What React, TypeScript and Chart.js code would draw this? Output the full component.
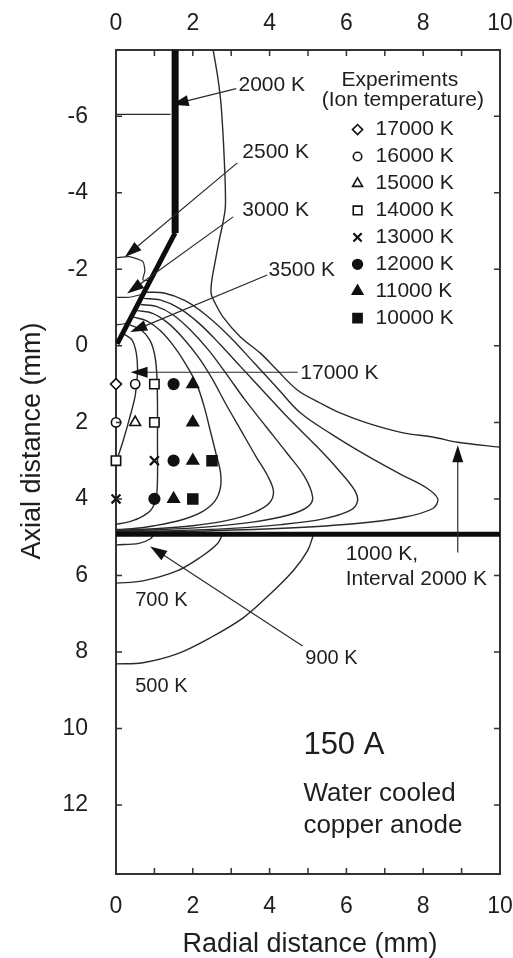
import React, { useEffect, useRef } from 'react';
import { Chart, registerables } from 'chart.js';
import { drawPoint } from 'chart.js/helpers';

Chart.register(...registerables);

// ---------------- axes ----------------
const xRange = [0, 10];
const yRange = [-7.73, 13.8];
const xTickLabels = [0, 2, 4, 6, 8, 10];
const xTickMarks = [1, 2, 3, 4, 5, 6, 7, 8, 9];
const yTickLabels = [-6, -4, -2, 0, 2, 4, 6, 8, 10, 12];

// ---------------- electrodes ----------------
const cathodeShank = [[1.54, -7.73], [1.54, -2.95]];
const cathodeTip = [[1.54, -2.95], [0.03, -0.05]];
const anodeSurface = [[0, 4.92], [10, 4.92]];

// ---------------- isotherms inside cathode ----------------
const iso2000Cathode = [[0, -6.05], [1.42, -6.05]];
const iso2500Cathode = [[0, -2.3], [0.35, -2.33], [0.7, -2.2], [0.75, -1.95], [0.7, -1.73], [0.86, -1.7]];
const iso3000Cathode = [[0, -1.27], [0.35, -1.27], [0.66, -1.34]];
const iso3500Cathode = [[0, -0.55], [0.2, -0.57], [0.3, -0.6]];

// ---------------- plasma isotherms (1000 K, interval 2000 K) ----------------
const iso17000 = [[0.22, -0.3], [0.42, -0.15], [0.53, 0.2], [0.56, 0.7], [0.5, 1.3], [0.35, 1.9], [0.18, 2.5], [0.05, 2.9], [0, 3.05]];
const iso15000 = [[0.36, -0.55], [0.65, -0.42], [0.88, -0.15], [1.0, 0.2], [1.06, 0.7], [1.08, 1.5], [1.08, 2.5], [1.08, 3.5], [1.04, 4.0], [0.9, 4.3], [0.6, 4.5], [0.25, 4.62], [0, 4.66]];
const iso13000 = [[0.46, -0.75], [0.8, -0.65], [1.15, -0.4], [1.5, 0.0], [1.8, 0.45], [2.1, 1.0], [2.3, 1.6], [2.45, 2.2], [2.6, 2.8], [2.72, 3.3], [2.72, 3.7], [2.58, 4.05], [2.25, 4.33], [1.7, 4.55], [1.0, 4.7], [0.4, 4.78], [0, 4.8]];
const iso11000 = [[0.55, -0.92], [0.95, -0.85], [1.35, -0.6], [1.75, -0.2], [2.15, 0.3], [2.5, 0.85], [2.85, 1.5], [3.25, 2.2], [3.65, 2.9], [3.95, 3.4], [4.1, 3.8], [4.0, 4.1], [3.6, 4.35], [2.9, 4.56], [2.0, 4.7], [1.0, 4.78], [0, 4.82]];
const iso9000 = [[0.64, -1.08], [1.05, -1.03], [1.5, -0.8], [1.95, -0.4], [2.4, 0.1], [2.85, 0.7], [3.35, 1.4], [3.9, 2.1], [4.45, 2.8], [4.9, 3.4], [5.12, 3.95], [5.0, 4.2], [4.5, 4.42], [3.6, 4.6], [2.4, 4.73], [1.2, 4.8], [0, 4.83]];
const iso7000 = [[0.72, -1.24], [1.15, -1.2], [1.65, -0.98], [2.15, -0.6], [2.7, -0.05], [3.25, 0.55], [3.85, 1.2], [4.5, 1.9], [5.2, 2.6], [5.8, 3.25], [6.2, 3.75], [6.29, 4.05], [6.1, 4.3], [5.4, 4.52], [4.3, 4.67], [3.0, 4.77], [1.5, 4.83], [0, 4.85]];
const iso5000 = [[0.8, -1.4], [1.25, -1.38], [1.8, -1.18], [2.35, -0.8], [2.95, -0.25], [3.6, 0.45], [4.2, 1.1], [4.8, 1.75], [5.6, 2.3], [6.5, 2.85], [7.4, 3.35], [8.1, 3.72], [8.38, 4.0], [8.25, 4.25], [7.5, 4.48], [6.2, 4.65], [4.5, 4.76], [2.5, 4.83], [0.5, 4.86], [0, 4.86]];
const iso1000 = [[2.53, -7.73], [2.66, -6.95], [2.74, -6.25], [2.82, -4.86], [2.85, -3.68], [2.79, -3.24], [2.69, -2.77], [2.58, -2.19], [2.49, -1.67], [2.48, -1.35], [2.58, -1.12], [2.79, -0.75], [3.24, -0.23], [3.76, 0.19], [4.2, 0.64], [4.73, 1.16], [5.33, 1.5], [5.85, 1.76], [6.55, 2.02], [7.42, 2.26], [8.28, 2.39], [8.9, 2.52], [10, 2.65]];

// ---------------- isotherms in the anode ----------------
const iso900Anode = [[0, 5.2], [0.6, 5.16], [0.9, 5.04], [0.97, 4.94]];
const iso700Anode = [[0, 6.2], [0.7, 6.14], [1.59, 5.88], [2.19, 5.53], [2.64, 5.17], [2.77, 4.94]];
const iso500Anode = [[0, 8.31], [0.7, 8.28], [1.59, 8.05], [2.45, 7.63], [3.32, 7.1], [4.02, 6.48], [4.62, 5.87], [4.99, 5.35], [5.14, 4.94]];

// ---------------- experiments (ion temperature) ----------------
const exp17000 = [[0, 1]];
const exp16000 = [[0.5, 1], [0, 2]];
const exp15000 = [[0.5, 2]];
const exp14000 = [[1, 1], [1, 2], [0, 3]];
const exp13000 = [[1, 3], [0, 4]];
const exp12000 = [[1.5, 1], [1.5, 3], [1, 4]];
const exp11000 = [[2, 1], [2, 2], [2, 3], [1.5, 4]];
const exp10000 = [[2.5, 3], [2, 4]];
const expLabels = ['17000 K', '16000 K', '15000 K', '14000 K', '13000 K', '12000 K', '11000 K', '10000 K'];
const expSeries = [exp17000, exp16000, exp15000, exp14000, exp13000, exp12000, exp11000, exp10000];

// ---------------- annotations ----------------
const labelTexts = ['2000 K', '2500 K', '3000 K', '3500 K', '17000 K', '1000 K,', 'Interval 2000 K', '700 K', '900 K', '500 K'];
const labelX = [3.19, 3.29, 3.29, 3.97, 4.8, 5.98, 5.98, 0.5, 4.93, 0.5];
const labelY = [-6.81, -5.07, -3.55, -1.98, 0.72, 5.45, 6.11, 6.66, 8.18, 8.91];
const arrowFrom = [[3.13, -6.72], [3.16, -4.78], [3.05, -3.37], [3.94, -1.85], [4.73, 0.69], [4.86, 7.84], [8.9, 5.4]];
const arrowTo = [[1.45, -6.3], [0.23, -2.32], [0.29, -1.37], [0.37, -0.36], [0.38, 0.69], [0.89, 5.24], [8.9, 2.6]];
const noteTexts = ['150 A', 'Water cooled', 'copper anode'];
const noteY = [10.43, 11.71, 12.55];
const noteX = 4.88;

const FONT = '"Liberation Sans", Arial, Helvetica, sans-serif';
const INK = '#1e1e1e';
const LINE = '#2a2a2a';

const markerStyle = [
  { pointStyle: 'rectRot', radius: 5.5, filled: false },
  { pointStyle: 'circle', radius: 4.6, filled: false },
  { pointStyle: 'triangle', radius: 6.2, filled: false },
  { pointStyle: 'rect', radius: 6.6, filled: false },
  { pointStyle: 'crossRot', radius: 6.3, filled: false },
  { pointStyle: 'circle', radius: 5.3, filled: true },
  { pointStyle: 'triangle', radius: 6.6, filled: true },
  { pointStyle: 'rect', radius: 7, filled: true },
];

const toXY = (pts: number[][]) => pts.map(([x, y]) => ({ x, y }));

export default function App() {
  const ref = useRef<HTMLCanvasElement>(null);

  useEffect(() => {
    const canvas = ref.current;
    if (!canvas) return;

    const lineSet = (pts: number[][], width = 1.4, tension = 0.35, color = LINE) => ({
      type: 'scatter' as const,
      data: toXY(pts),
      showLine: true,
      borderColor: color,
      backgroundColor: color,
      borderWidth: width,
      pointRadius: 0,
      pointHoverRadius: 0,
      tension,
      fill: false,
      order: 2,
    });

    const markerSets = expSeries.map((s, i) => ({
      type: 'scatter' as const,
      label: expLabels[i],
      data: toXY(s),
      pointStyle: markerStyle[i].pointStyle,
      pointRadius: markerStyle[i].radius,
      pointHoverRadius: markerStyle[i].radius,
      pointBackgroundColor: markerStyle[i].filled ? '#111' : '#fff',
      pointBorderColor: '#111',
      pointBorderWidth: markerStyle[i].pointStyle === 'crossRot' ? 2.2 : 1.6,
      showLine: false,
      clip: false,
      order: 0,
    }));

    const frameColor = '#333';
    const tickFont = { family: FONT, size: 23 };

    const overlay = {
      id: 'overlay',
      afterDraw(chart: any) {
        const { ctx, chartArea, scales } = chart;
        const xs = scales.x;
        const ys = scales.y;
        const px = (v: number) => xs.getPixelForValue(v);
        const py = (v: number) => ys.getPixelForValue(v);
        ctx.save();
        // inward tick marks
        ctx.strokeStyle = frameColor;
        ctx.lineWidth = 1.5;
        ctx.beginPath();
        for (const v of xTickMarks) {
          const X = px(v);
          ctx.moveTo(X, chartArea.top);
          ctx.lineTo(X, chartArea.top + 6);
          ctx.moveTo(X, chartArea.bottom);
          ctx.lineTo(X, chartArea.bottom - 6);
        }
        for (const v of yTickLabels) {
          const Y = py(v);
          ctx.moveTo(chartArea.left, Y);
          ctx.lineTo(chartArea.left + 6, Y);
          ctx.moveTo(chartArea.right, Y);
          ctx.lineTo(chartArea.right - 6, Y);
        }
        ctx.stroke();

        // arrows
        ctx.strokeStyle = LINE;
        ctx.fillStyle = '#111';
        ctx.lineWidth = 1.2;
        for (let i = 0; i < arrowFrom.length; i++) {
          const x0 = px(arrowFrom[i][0]);
          const y0 = py(arrowFrom[i][1]);
          const x1 = px(arrowTo[i][0]);
          const y1 = py(arrowTo[i][1]);
          const ang = Math.atan2(y1 - y0, x1 - x0);
          const L = 17;
          const W = 5.5;
          ctx.beginPath();
          ctx.moveTo(x0, y0);
          ctx.lineTo(x1 - Math.cos(ang) * L * 0.8, y1 - Math.sin(ang) * L * 0.8);
          ctx.stroke();
          ctx.beginPath();
          ctx.moveTo(x1, y1);
          ctx.lineTo(x1 - Math.cos(ang) * L + Math.sin(ang) * W, y1 - Math.sin(ang) * L - Math.cos(ang) * W);
          ctx.lineTo(x1 - Math.cos(ang) * L - Math.sin(ang) * W, y1 - Math.sin(ang) * L + Math.cos(ang) * W);
          ctx.closePath();
          ctx.fill();
        }

        // contour labels
        ctx.fillStyle = INK;
        ctx.textBaseline = 'middle';
        ctx.textAlign = 'left';
        for (let i = 0; i < labelTexts.length; i++) {
          const small = labelTexts[i].length <= 5;
          ctx.font = `${small ? 20 : 21}px ${FONT}`;
          ctx.fillText(labelTexts[i], px(labelX[i]), py(labelY[i]));
        }

        // notes
        ctx.font = `31px ${FONT}`;
        ctx.fillText(noteTexts[0], px(noteX), py(noteY[0]));
        ctx.font = `26px ${FONT}`;
        ctx.fillText(noteTexts[1], px(noteX), py(noteY[1]));
        ctx.fillText(noteTexts[2], px(noteX), py(noteY[2]));

        // legend
        ctx.textAlign = 'center';
        ctx.font = `21px ${FONT}`;
        ctx.fillText('Experiments', px(7.39), py(-6.94));
        ctx.fillText('(Ion temperature)', px(7.47), py(-6.41));
        ctx.textAlign = 'left';
        for (let i = 0; i < expLabels.length; i++) {
          const Y = py(-5.65 + i * 0.704);
          const st = markerStyle[i];
          ctx.fillStyle = st.filled ? '#111' : '#fff';
          ctx.strokeStyle = '#111';
          const bw = st.pointStyle === 'crossRot' ? 2.2 : 1.6;
          ctx.lineWidth = bw;
          drawPoint(ctx, { pointStyle: st.pointStyle, rotation: 0, radius: st.radius * 0.92, borderWidth: bw } as any, px(6.29), Y);
          ctx.fillStyle = INK;
          ctx.fillText(expLabels[i], px(6.76), Y);
        }

        // axis titles
        ctx.fillStyle = INK;
        ctx.font = `27px ${FONT}`;
        ctx.textAlign = 'center';
        ctx.textBaseline = 'alphabetic';
        ctx.fillText('Radial distance (mm)', 310, 952);
        ctx.save();
        ctx.translate(40, 441);
        ctx.rotate(-Math.PI / 2);
        ctx.fillText('Axial distance (mm)', 0, 0);
        ctx.restore();

        ctx.restore();
      },
    };

    const xAxis = (position: 'top' | 'bottom', size: number, pad: number) => ({
      type: 'linear' as const,
      position,
      min: xRange[0],
      max: xRange[1],
      grid: { display: false, drawTicks: false },
      border: { display: true, color: frameColor, width: 2 },
      ticks: { font: tickFont, color: INK, padding: pad, autoSkip: false, maxRotation: 0, callback: (v: any) => String(v) },
      afterBuildTicks: (s: any) => { s.ticks = xTickLabels.map((v) => ({ value: v })); },
      afterFit: (s: any) => {
        s.height = size;
        s.paddingLeft = 0;
        s.paddingRight = 0;
        s.paddingTop = 0;
        s.paddingBottom = 0;
      },
    });

    const yAxis = (position: 'left' | 'right', size: number, showLabels: boolean) => ({
      type: 'linear' as const,
      position,
      reverse: true,
      min: yRange[0],
      max: yRange[1],
      grid: { display: false, drawTicks: false },
      border: { display: true, color: frameColor, width: 2 },
      ticks: { display: showLabels, font: tickFont, color: INK, padding: 28, autoSkip: false, callback: (v: any) => String(v) },
      afterBuildTicks: (s: any) => { s.ticks = yTickLabels.map((v) => ({ value: v })); },
      afterFit: (s: any) => {
        s.width = size;
        s.paddingLeft = 0;
        s.paddingRight = 0;
        s.paddingTop = 0;
        s.paddingBottom = 0;
      },
    });

    const chart = new Chart(canvas, {
      type: 'scatter',
      data: {
        datasets: [
          ...markerSets,
          lineSet(cathodeShank, 7, 0, '#0d0d0d'),
          lineSet(cathodeTip, 5, 0, '#0d0d0d'),
          lineSet(anodeSurface, 5, 0, '#0d0d0d'),
          lineSet(iso2000Cathode, 1.3, 0),
          lineSet(iso2500Cathode, 1.2, 0.2),
          lineSet(iso3000Cathode, 1.2, 0.2),
          lineSet(iso3500Cathode, 1.2, 0.2),
          lineSet(iso17000),
          lineSet(iso15000),
          lineSet(iso13000),
          lineSet(iso11000),
          lineSet(iso9000),
          lineSet(iso7000),
          lineSet(iso5000),
          lineSet(iso1000),
          lineSet(iso900Anode),
          lineSet(iso700Anode),
          lineSet(iso500Anode),
        ] as any,
      },
      options: {
        responsive: false,
        maintainAspectRatio: false,
        devicePixelRatio: 1,
        animation: false,
        events: [],
        layout: { padding: 0, autoPadding: false },
        plugins: { legend: { display: false }, tooltip: { enabled: false }, title: { display: false } },
        scales: {
          x: xAxis('bottom', 84, 19),
          x2: xAxis('top', 50, 13),
          y: yAxis('left', 116, true),
          y2: yAxis('right', 13, false),
        },
      } as any,
      plugins: [overlay],
    });

    return () => chart.destroy();
  }, []);

  return (
    <div style={{ position: 'absolute', left: 0, top: 0, width: 513, height: 958, background: '#fff' }}>
      <canvas ref={ref} width={513} height={958} style={{ display: 'block', width: 513, height: 958 }} />
    </div>
  );
}
